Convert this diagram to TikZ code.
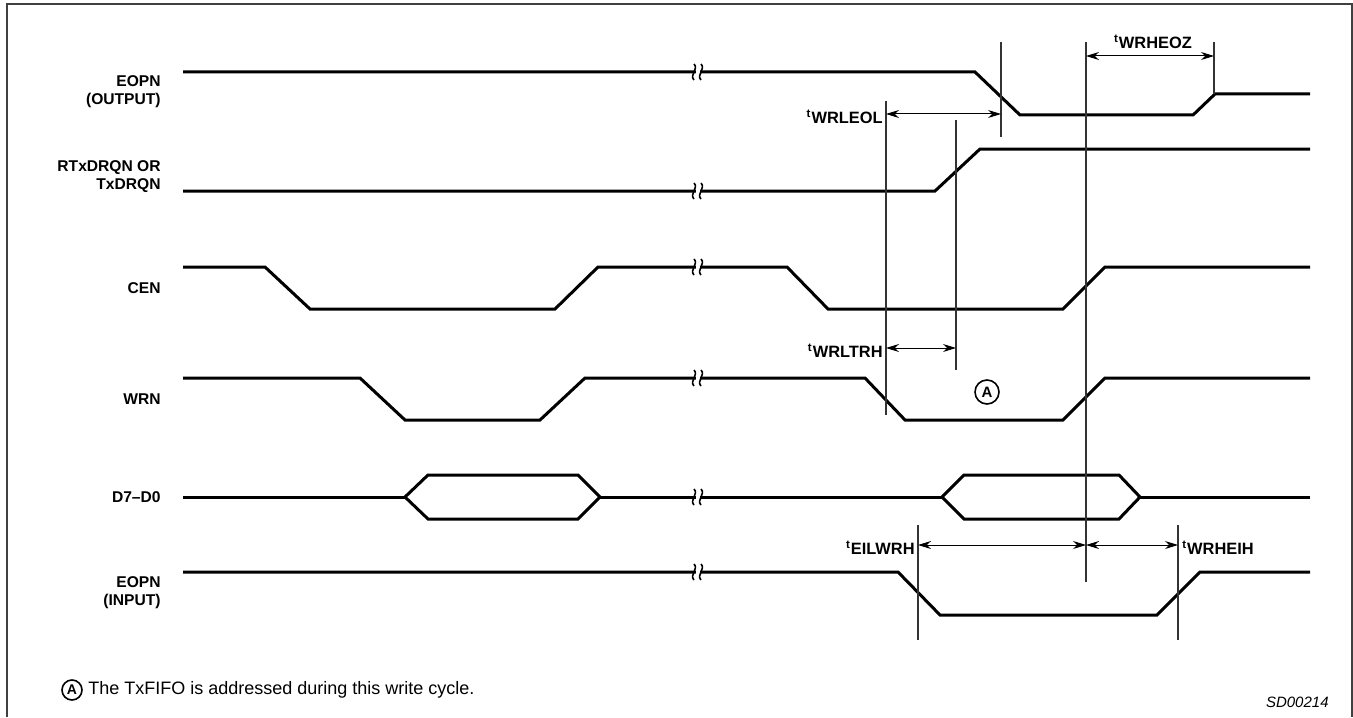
\documentclass[tikz,border=0pt]{standalone}
\usepackage{fontspec}
\setmainfont{Liberation Sans}
\usepackage{tikz}
\usetikzlibrary{arrows.meta,positioning,calc}

\newcommand{\tsub}[1]{\textsuperscript{t}#1}

\begin{document}
\begin{tikzpicture}[x=0.5pt, y=-0.5pt,
    sig/.style={line width=1.5pt, line join=miter},
    guide/.style={line width=0.6pt, black!80},
    dim/.style={line width=0.5pt, {Stealth[length=6.5pt,width=4pt]}-{Stealth[length=6.5pt,width=4pt]}},
    siglabel/.style={anchor=east, align=right, inner sep=0pt, font=\fontsize{7.8}{9}\selectfont\bfseries},
    tlabel/.style={inner sep=0pt, font=\fontsize{8.2}{9}\selectfont\bfseries},
    brkmark/.style={line width=0.8pt}]
    \useasboundingbox (0,0) rectangle (1353,717);
    % frame
    \draw[line width=1pt, black!75] (7,717) -- (7,4) -- (1352,4) -- (1352,717);

    % signal names
    \node[siglabel] (eopnout) at (161,92) {EOPN\\(OUTPUT)};
    \node[siglabel] (drqn) at (161,177) {RTxDRQN OR\\TxDRQN};
    \node[siglabel] (cen) at (161,288) {CEN};
    \node[siglabel] (wrn) at (161,399) {WRN};
    \node[siglabel] (data) at (161,497) {D7--D0};
    \node[siglabel] (eopnin) at (161,593) {EOPN\\(INPUT)};

    % waveforms
    \draw[sig] (183,72) -- (975,72) -- (1020,115) -- (1193,115) -- (1215,94) -- (1310,94);
    \draw[sig] (183,191) -- (935,191) -- (980,149) -- (1310,149);
    \draw[sig] (183,267) -- (265,267) -- (310,309) -- (555,309) -- (598,267) -- (787,267)
        -- (828,309) -- (1063,309) -- (1105,267) -- (1310,267);
    \draw[sig] (183,378) -- (360,378) -- (405,420) -- (540,420) -- (585,378) -- (865,378)
        -- (905,420) -- (1063,420) -- (1105,378) -- (1310,378);
    \draw[sig] (183,497) -- (405,497) (600,497) -- (942,497) (1140,497) -- (1310,497);
    \draw[sig] (405,497) -- (428,475) -- (578,475) -- (600,497) -- (578,519) -- (428,519) -- cycle;
    \draw[sig] (942,497) -- (964,475) -- (1119,475) -- (1140,497) -- (1119,519) -- (964,519) -- cycle;
    \draw[sig] (183,572) -- (898,572) -- (940,615) -- (1157,615) -- (1200,572) -- (1310,572);

    % break marks
    \foreach \y in {72,191,267,378,497,572} {
        \fill[white] (695.5,\y-2) rectangle (699.5,\y+2);
        \draw[brkmark] (694,\y-8) .. controls (699,\y-3) and (689,\y+3) .. (694,\y+8);
        \draw[brkmark] (701,\y-8) .. controls (706,\y-3) and (696,\y+3) .. (701,\y+8);
    }

    % reference lines
    \draw[guide] (1001,42) -- (1001,137);
    \draw[guide] (886,101) -- (886,415);
    \draw[guide] (956,120) -- (956,370);
    \draw[guide] (1086,42) -- (1086,582);
    \draw[guide] (1214,42) -- (1214,94);
    \draw[guide] (918,525) -- (918,640);
    \draw[guide] (1178,525) -- (1178,640);

    % timing arrows
    \coordinate (eozA) at (1086,56);
    \coordinate (eozB) at (1214,56);
    \coordinate (eolA) at (886,114);
    \coordinate (eolB) at (1001,114);
    \coordinate (trhA) at (886,348);
    \coordinate (trhB) at (956,348);
    \coordinate (eilA) at (918,545);
    \coordinate (eilB) at (1086,545);
    \coordinate (eihB) at (1178,545);
    \draw[dim] (eozA) -- (eozB);
    \draw[dim] (eolA) -- (eolB);
    \draw[dim] (trhA) -- (trhB);
    \draw[dim] (eilA) -- (eilB);
    \draw[dim] (eilB) -- (eihB);
    \node[tlabel, anchor=south] (tWRHEOZ) at (1153,49) {\tsub{WRHEOZ}};
    \node[tlabel, anchor=east] (tWRLEOL) at (883,117) {\tsub{WRLEOL}};
    \node[tlabel, anchor=east] (tWRLTRH) at (883,351) {\tsub{WRLTRH}};
    \node[tlabel, anchor=east] (tEILWRH) at (915,548) {\tsub{EILWRH}};
    \node[tlabel, anchor=west] (tWRHEIH) at (1182,548) {\tsub{WRHEIH}};

    % note marker
    \node[circle, draw, line width=0.8pt, inner sep=0pt, minimum size=12pt,
        font=\fontsize{7.5}{9}\selectfont\bfseries] (markA) at (987,392) {A};

    % footer
    \node[circle, draw, line width=0.8pt, inner sep=0pt, minimum size=10pt,
        font=\fontsize{7}{9}\selectfont\bfseries] (noteA) at (72,690) {A};
    \node[anchor=west, inner sep=0pt, font=\fontsize{9}{10}\selectfont] (notetext)
        at (88,690) {The TxFIFO is addressed during this write cycle.};
    \node[anchor=east, inner sep=0pt, font=\fontsize{7.5}{9}\selectfont\itshape] (figid)
        at (1329,702) {SD00214};
\end{tikzpicture}
\end{document}
